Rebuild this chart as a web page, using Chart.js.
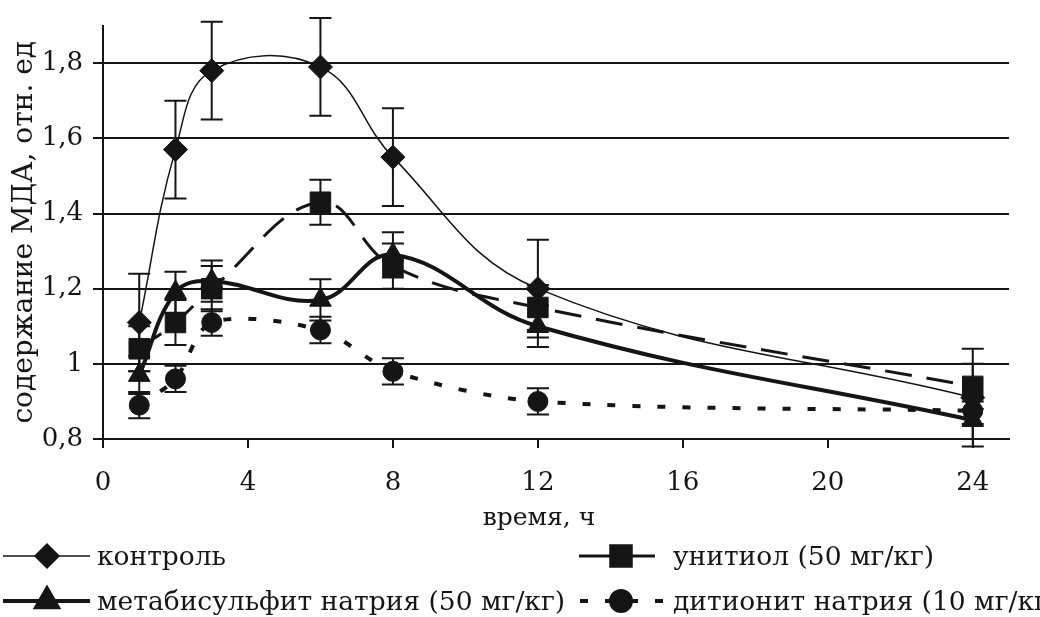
<!DOCTYPE html>
<html>
<head>
<meta charset="utf-8">
<script src="https://cdn.jsdelivr.net/npm/chart.js@4/dist/chart.umd.min.js"></script>
<style>
  html, body { margin: 0; padding: 0; background: #fff; }
  #chart { display: block; }
</style>
</head>
<body>
<canvas id="chart" width="1040" height="617"></canvas>
<script>
// time points, h
const hours = [1, 2, 3, 6, 8, 12, 24];

// MDA content, rel. units
const control       = [1.11, 1.57, 1.78, 1.79, 1.55, 1.20, 0.91];
const unithiol      = [1.04, 1.11, 1.20, 1.43, 1.26, 1.15, 0.94];
const metabisulfite = [0.97, 1.19, 1.22, 1.17, 1.29, 1.10, 0.85];
const dithionite    = [0.89, 0.96, 1.11, 1.09, 0.98, 0.90, 0.875];

// error bars (+/-)
const controlErr       = [0.13, 0.13, 0.13, 0.13, 0.13, 0.13, 0.13];
const unithiolErr      = [0.06, 0.06, 0.06, 0.06, 0.06, 0.06, 0.06];
const metabisulfiteErr = [0.05, 0.055, 0.055, 0.055, 0.06, 0.055, 0.05];
const dithioniteErr    = [0.035, 0.035, 0.035, 0.035, 0.035, 0.035, 0.035];

const xTicks = [0, 4, 8, 12, 16, 20, 24];
const yTicks = [0.8, 1.0, 1.2, 1.4, 1.6, 1.8];

const seriesNames = [
  'контроль',
  'унитиол (50 мг/кг)',
  'метабисульфит натрия (50 мг/кг)',
  'дитионит натрия (10 мг/кг)'
];
const xTitle = 'время, ч';
const yTitle = 'содержание МДА, отн. ед';

const INK = '#151515';
const FONT = '"DejaVu Serif", "Liberation Serif", serif';

const toPoints = vals => hours.map((h, i) => ({ x: h, y: vals[i] }));

// vertical error bars, drawn under the markers
const errorBars = {
  id: 'errorBars',
  beforeDatasetsDraw(chart){
    const { ctx, scales: { y } } = chart;
    ctx.save();
    ctx.strokeStyle = INK;
    ctx.lineWidth = 2;
    chart.data.datasets.forEach((ds, di) => {
      const meta = chart.getDatasetMeta(di);
      (ds.errors || []).forEach((e, i) => {
        const pt = meta.data[i];
        if (!pt) return;
        const v = ds.data[i].y;
        const top = y.getPixelForValue(v + e);
        const bot = y.getPixelForValue(v - e);
        ctx.beginPath();
        ctx.moveTo(pt.x, top); ctx.lineTo(pt.x, bot);
        ctx.moveTo(pt.x - 11, top); ctx.lineTo(pt.x + 11, top);
        ctx.moveTo(pt.x - 11, bot); ctx.lineTo(pt.x + 11, bot);
        ctx.stroke();
      });
    });
    ctx.restore();
  }
};

// x title and legend below the axis
const bottomText = {
  id: 'bottomText',
  afterDraw(chart){
    const ctx = chart.ctx;
    ctx.save();
    ctx.fillStyle = INK;
    ctx.font = '25px ' + FONT;
    ctx.textBaseline = 'middle';
    ctx.textAlign = 'center';
    ctx.fillText(xTitle, 539, 518);

    const rows = [
      { ds: 0, x0: 3,   x1: 90,  mx: 47,  y: 556, tx: 97 },
      { ds: 1, x0: 579, x1: 655, mx: 621, y: 556, tx: 673, solid: true },
      { ds: 2, x0: 3,   x1: 90,  mx: 47,  y: 601, tx: 97 },
      { ds: 3, x0: 580, x1: 663, mx: 621, y: 601, tx: 673 }
    ];
    ctx.textAlign = 'left';
    ctx.font = '26.5px ' + FONT;
    rows.forEach(r => {
      const ds = chart.data.datasets[r.ds];
      ctx.save();
      ctx.strokeStyle = INK;
      ctx.lineWidth = ds.borderWidth;
      ctx.setLineDash(r.solid ? [] : (ds.borderDash || []));
      ctx.beginPath();
      ctx.moveTo(r.x0, r.y); ctx.lineTo(r.x1, r.y);
      ctx.stroke();
      ctx.setLineDash([]);
      ctx.fillStyle = INK;
      Chart.helpers.drawPoint(ctx, {
        pointStyle: ds.pointStyle, radius: ds.pointRadius, rotation: 0, borderWidth: 1
      }, r.mx, r.y);
      ctx.restore();
      ctx.fillText(seriesNames[r.ds], r.tx, r.y + 2);
    });
    ctx.restore();
  }
};

const common = {
  borderColor: INK,
  backgroundColor: INK,
  pointBorderColor: INK,
  pointBackgroundColor: INK,
  pointBorderWidth: 1,
  tension: 0.4,
  fill: false
};

new Chart(document.getElementById('chart'), {
  type: 'line',
  data: {
    datasets: [
      { ...common, label: seriesNames[0], data: toPoints(control), errors: controlErr,
        borderWidth: 1.5, pointStyle: 'rectRot', pointRadius: 12 },
      { ...common, label: seriesNames[1], data: toPoints(unithiol), errors: unithiolErr,
        borderWidth: 3, borderDash: [27, 15], pointStyle: 'rect', pointRadius: 14.5 },
      { ...common, label: seriesNames[2], data: toPoints(metabisulfite), errors: metabisulfiteErr,
        borderWidth: 4, pointStyle: 'triangle', pointRadius: 12.5 },
      { ...common, label: seriesNames[3], data: toPoints(dithionite), errors: dithioniteErr,
        borderWidth: 4, borderDash: [8, 17], pointStyle: 'circle', pointRadius: 10, tension: 0.3 }
    ]
  },
  options: {
    responsive: false,
    animation: false,
    layout: { padding: { top: 22, right: 31, bottom: 82, left: 0 } },
    plugins: { legend: { display: false }, tooltip: { enabled: false } },
    scales: {
      x: {
        type: 'linear',
        min: 0, max: 25,
        afterBuildTicks: s => { s.ticks = xTicks.map(v => ({ value: v })); },
        afterFit: s => { s.height = 96; },
        border: { color: INK, width: 2 },
        grid: { drawOnChartArea: false, drawTicks: true, tickLength: 9, color: INK, lineWidth: 2 },
        ticks: { color: INK, font: { family: FONT, size: 26 }, padding: 20, maxRotation: 0 }
      },
      y: {
        min: 0.8, max: 1.9,
        afterBuildTicks: s => { s.ticks = yTicks.map(v => ({ value: v })); },
        afterFit: s => { s.width = 103; },
        border: { color: INK, width: 2 },
        grid: { color: INK, lineWidth: 2, tickLength: 10 },
        ticks: {
          color: INK, font: { family: FONT, size: 26 }, padding: 10,
          callback: v => String(Math.round(v * 10) / 10).replace('.', ',')
        },
        title: { display: true, text: yTitle, color: INK,
                 font: { family: FONT, size: 28 }, padding: { top: 8, bottom: 0 } }
      }
    }
  },
  plugins: [errorBars, bottomText]
});
</script>
</body>
</html>
